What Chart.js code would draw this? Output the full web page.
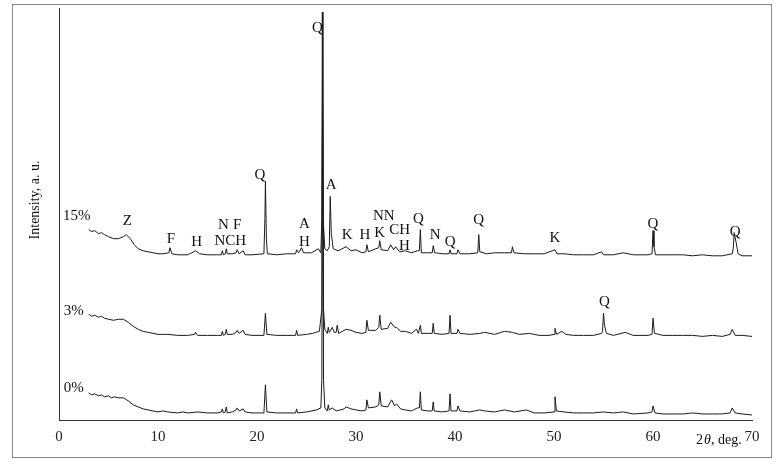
<!DOCTYPE html>
<html>
<head>
<meta charset="utf-8">
<script src="https://cdn.jsdelivr.net/npm/chart.js@4.4.0/dist/chart.umd.min.js"></script>
<style>
  body { margin: 0; background: #fff; }
  #wrap { position: relative; width: 783px; height: 469px; }
  #frame { position: absolute; left: 12px; top: 4px; width: 760px; height: 454px; border: 1px solid #888; box-sizing: border-box; }
</style>
</head>
<body>
<div id="wrap">
  <div id="frame"></div>
  <canvas id="myChart" width="783" height="469"></canvas>
</div>
<script>
// XRD patterns, intensity in arbitrary units (traces already offset)
var xTicks = [0, 10, 20, 30, 40, 50, 60, 70];

var pattern0 = [[3,27],[3.3,25],[3.6,26],[4,24],[4.3,25],[4.6,23],[5,24],[5.3,22],[5.6,23],[6,22],[6.5,22],[7,19],[7.5,15],[8,13],[8.5,11],[9,10],[9.5,9],[10,8],[10.5,9],[11,8],[12,7],[12.5,8],[13,7],[14,8],[15,7],[16,7],[16.4,8],[16.5,11],[16.6,7],[16.8,8],[16.9,13],[17.0,7],[17.5,8],[17.9,10],[18,12],[18.2,9],[18.6,11],[18.8,8],[19.5,7],[20.7,7],[20.85,35],[21.0,8],[22,7],[23,7],[23.9,7],[24,11],[24.1,7],[25,8],[26,10],[26.45,12],[26.55,40],[26.64,405],[26.72,40],[26.85,12],[27.1,9],[27.2,15],[27.3,10],[27.6,12],[28,9],[28.8,11],[29,13],[29.5,11],[30,10],[30.6,9],[31.0,10],[31.1,20],[31.25,12],[32,13],[32.3,15],[32.4,28],[32.55,14],[33.2,13],[33.6,20],[33.9,14],[34.1,16],[34.5,11],[35,10],[35.6,9],[36.2,12],[36.4,12],[36.5,28],[36.6,10],[37.2,9],[37.7,9],[37.8,18],[37.9,9],[38.7,8],[39.4,9],[39.5,26],[39.6,9],[40.2,9],[40.3,14],[40.5,9],[41.5,8],[42.5,10],[43,9],[44,8],[45,10],[46,8],[47.2,10],[48,7],[49,7],[50,8],[50.1,23],[50.25,9],[51,8],[52,7],[53,7],[54,7],[55,8],[56,7],[57,8],[58,6],[59.5,7],[59.9,8],[60,14],[60.2,7],[61,6],[62,6],[63,6],[64,7],[65,6],[66,6],[67,6],[67.8,7],[68,12],[68.3,7],[69,6],[70,5]];

var pattern3 = [[3,105],[3.3,103],[3.6,104],[4,102],[4.3,103],[4.6,101],[5,100],[5.5,99],[6,100],[6.5,100],[7,97],[7.5,93],[8,90],[8.5,88],[9,87],[9.5,86],[10,85],[11,85],[12,84],[13,84],[13.7,85],[13.8,87],[14,84],[15,84],[16,84],[16.4,84],[16.5,88],[16.6,84],[16.8,85],[16.9,90],[17.0,85],[17.5,85],[17.9,87],[18,89],[18.2,86],[18.6,89],[18.8,85],[19.5,84],[20.7,84],[20.85,106],[21.0,85],[22,84],[23,84],[23.9,84],[24,89],[24.1,84],[25,85],[25.6,86],[26.3,88],[26.55,110],[26.64,405],[26.72,110],[26.85,90],[27.1,86],[27.2,92],[27.3,87],[27.6,92],[27.8,87],[28.0,87],[28.1,94],[28.25,86],[29,90],[29.5,89],[30,87],[30.6,86],[31.0,87],[31.1,99],[31.25,89],[32,89],[32.3,92],[32.4,104],[32.55,90],[33.2,91],[33.5,97],[33.9,92],[34.1,92],[34.5,88],[35,88],[35.6,86],[36.1,90],[36.3,86],[36.5,94],[36.6,86],[37.2,86],[37.7,86],[37.8,96],[37.9,86],[38.7,85],[39.4,86],[39.5,104],[39.6,86],[40.2,86],[40.3,90],[40.5,86],[41.5,85],[42.5,86],[43,87],[44,85],[45,88],[45.8,87],[46.5,85],[47.5,86],[48.5,84],[49.5,84],[50,85],[50.1,91],[50.25,85],[50.8,88],[51.2,85],[52,84],[53,84],[54,84],[54.8,86],[54.9,88],[55,106],[55.1,94],[55.3,86],[56,84],[57.2,87],[58,84],[59.5,84],[59.9,85],[60,101],[60.15,86],[61,84],[62,84],[63,84],[64,84],[65,83],[66,84],[67,83],[67.8,85],[68,90],[68.3,84],[69,84],[70,83]];

var pattern15 = [[3,189],[3.3,187],[3.6,188],[4,185],[4.3,186],[4.6,184],[5,182],[5.5,180],[6,180],[6.5,182],[6.8,184],[7.2,180],[7.6,174],[8,170],[8.5,168],[9,167],[9.5,166],[10,165],[10.5,165],[11.1,166],[11.2,171],[11.4,165],[12,164],[13,164],[13.8,168],[14.2,165],[15,164],[16,164],[16.4,164],[16.5,168],[16.6,164],[16.8,165],[16.9,170],[17.0,165],[17.5,165],[17.9,166],[18,169],[18.2,165],[18.6,168],[18.8,164],[19.5,164],[20.7,165],[20.8,200],[20.85,237],[20.95,180],[21.05,165],[22,164],[23,165],[23.9,165],[24,169],[24.2,166],[24.5,171],[24.7,166],[25.5,166],[26.2,170],[26.45,166],[26.55,200],[26.6,405],[26.68,200],[26.85,170],[27.1,168],[27.3,172],[27.4,222],[27.5,185],[27.7,170],[28.2,168],[29,172],[29.5,168],[30,169],[30.6,166],[31.0,167],[31.1,174],[31.25,167],[32,170],[32.3,171],[32.4,178],[32.55,169],[33.2,168],[33.5,174],[33.8,169],[34,172],[34.4,167],[35,168],[35.6,166],[36.2,168],[36.4,168],[36.5,189],[36.6,166],[37.2,166],[37.7,166],[37.8,173],[37.95,166],[38.8,165],[39.4,165],[39.5,169],[39.6,165],[40.2,165],[40.3,169],[40.5,165],[41.5,165],[42.3,166],[42.4,184],[42.5,167],[43.2,165],[44,166],[45,166],[45.7,166],[45.8,172],[45.95,166],[47,165],[48,165],[49,165],[50.1,169],[50.3,165],[51,165],[52,164],[53,164],[54,164],[54.8,167],[55.0,164],[56,164],[57,166],[58,164],[59.5,164],[59.9,165],[60,188],[60.1,172],[60.25,164],[61,164],[62,164],[63,164],[64,163],[65,164],[66,163],[67,163],[68,165],[68.1,170],[68.2,186],[68.4,176],[68.6,165],[69,163],[70,163]];

// phase markers: [label, 2theta, intensity]
var markers = [["Z",6.9,197],["F",11.3,180],["H",13.9,177],["N",16.6,194],["F",18.0,194],["NCH",17.3,178],
  ["Q",20.3,243],["A",24.8,195],["H",24.8,177],["Q",26.1,389],["A",27.5,233],["K",29.1,184],["H",30.9,184],
  ["NN",32.8,202],["K",32.4,186],["CH",34.4,189],["H",34.9,173],["Q",36.3,199],["N",38.0,184],["Q",39.5,177],
  ["Q",42.4,198],["K",50.1,181],["Q",55.1,117],["Q",60.0,195],["Q",68.3,187]];
var seriesLabels = [["15%",1.8,202],["3%",1.5,108],["0%",1.5,32]];

var serif = "'Liberation Serif', 'DejaVu Serif', serif";

var textPlugin = {
    id: 'texts',
    afterDraw: function (chart) {
        var c = chart.ctx, xs = chart.scales.x, ys = chart.scales.y;
        c.save();
        c.fillStyle = '#111';
        c.textAlign = 'center';
        c.textBaseline = 'middle';
        c.font = '15px ' + serif;
        markers.concat(seriesLabels).forEach(function (m) {
            c.fillText(m[0], xs.getPixelForValue(m[1]), ys.getPixelForValue(m[2]));
        });
        // x title
        c.textAlign = 'left';
        c.font = '14px ' + serif;
        c.fillText('2', 696, 440);
        c.font = 'italic 14px ' + serif;
        c.fillText('θ', 704, 440);
        c.font = '14px ' + serif;
        c.fillText(', deg.', 711, 440);
        // y title
        c.translate(35, 200);
        c.rotate(-Math.PI / 2);
        c.textAlign = 'center';
        c.fillText('Intensity, a. u.', 0, 0);
        c.restore();
    }
};

function ds(points) {
    return {
        data: points.map(function (p) { return { x: p[0], y: p[1] }; }),
        showLine: true, borderColor: '#1a1a1a', borderWidth: 1,
        pointRadius: 0, tension: 0
    };
}

var ctx = document.getElementById("myChart").getContext('2d');
var myChart = new Chart(ctx, {
    type: 'scatter',
    data: { datasets: [ds(pattern0), ds(pattern3), ds(pattern15)] },
    options: {
        responsive: false,
        animation: false,
        layout: { padding: { left: 59, right: 31, top: 8, bottom: 20 } },
        plugins: { legend: { display: false }, tooltip: { enabled: false } },
        scales: {
            x: {
                type: 'linear', min: 0, max: 70,
                afterBuildTicks: function (axis) { axis.ticks = xTicks.map(function (v) { return { value: v }; }); },
                grid: { display: false, drawTicks: true, tickLength: 5, color: '#333' },
                border: { color: '#333', width: 1 },
                ticks: { color: '#222', font: { family: serif, size: 15 }, padding: 3 }
            },
            y: {
                min: 0, max: 409,
                ticks: { display: false },
                grid: { display: false, drawTicks: false },
                border: { color: '#333', width: 1 }
            }
        }
    },
    plugins: [textPlugin]
});
</script>
</body>
</html>
